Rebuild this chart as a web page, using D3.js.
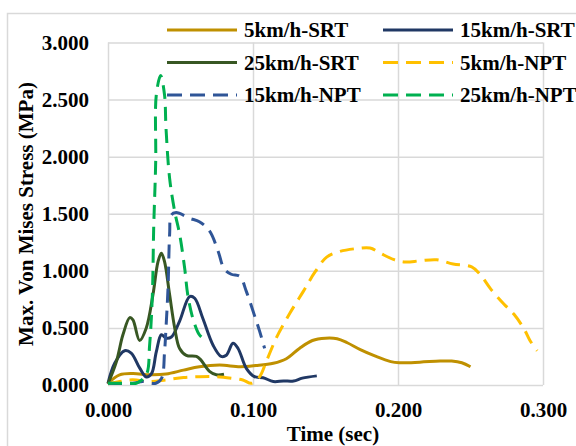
<!DOCTYPE html>
<html>
<head>
<meta charset="utf-8">
<script src="https://cdn.jsdelivr.net/npm/d3@7"></script>
<style>
  body { margin: 0; background: #fff; }
  text { font-family: "Liberation Serif", "Times New Roman", serif; font-weight: bold; fill: #000; }
</style>
</head>
<body>
<div id="chart"></div>
<script>
// Series data: [time (sec), max. von Mises stress (MPa)]
const srt5 = [[0,0.015],[0.008,0.088],[0.017,0.10],[0.029,0.09],[0.040,0.096],[0.052,0.13],[0.063,0.16],[0.077,0.175],[0.091,0.16],[0.102,0.17],[0.114,0.19],[0.123,0.23],[0.132,0.32],[0.141,0.39],[0.150,0.41],[0.158,0.405],[0.165,0.37],[0.174,0.31],[0.184,0.255],[0.195,0.205],[0.201,0.195],[0.215,0.20],[0.229,0.21],[0.237,0.21],[0.244,0.195],[0.250,0.16]];
const srt15 = [[0,0.015],[0.0046,0.19],[0.0115,0.30],[0.016,0.28],[0.0218,0.15],[0.0264,0.07],[0.030,0.10],[0.0333,0.29],[0.0368,0.44],[0.040,0.41],[0.0437,0.42],[0.0494,0.56],[0.0563,0.775],[0.0598,0.76],[0.0655,0.58],[0.0724,0.35],[0.078,0.25],[0.0816,0.26],[0.0862,0.365],[0.0897,0.32],[0.0954,0.146],[0.101,0.073],[0.107,0.064],[0.114,0.03],[0.121,0.035],[0.128,0.035],[0.134,0.06],[0.144,0.08]];
const srt25 = [[0,0.01],[0.0057,0.2],[0.0103,0.44],[0.015,0.59],[0.0172,0.57],[0.0218,0.39],[0.0264,0.50],[0.031,0.79],[0.0345,1.08],[0.0368,1.155],[0.039,1.08],[0.0425,0.79],[0.046,0.50],[0.0494,0.32],[0.054,0.26],[0.061,0.25],[0.064,0.22],[0.070,0.12],[0.0747,0.09],[0.080,0.094]];
const npt5 = [[0,0.01],[0.008,0.03],[0.017,0.045],[0.029,0.03],[0.040,0.045],[0.052,0.065],[0.063,0.073],[0.075,0.073],[0.086,0.058],[0.093,0.044],[0.099,0.015],[0.1046,0.073],[0.109,0.2],[0.116,0.41],[0.1255,0.63],[0.1347,0.82],[0.1428,0.99],[0.1508,1.12],[0.160,1.17],[0.1715,1.195],[0.1807,1.20],[0.1876,1.156],[0.1968,1.10],[0.2048,1.077],[0.2152,1.088],[0.2267,1.097],[0.238,1.06],[0.2508,1.035],[0.2566,0.97],[0.264,0.84],[0.273,0.71],[0.280,0.62],[0.287,0.49],[0.291,0.39],[0.296,0.30]];
const npt15 = [[0,0.015],[0.017,0.015],[0.024,0.03],[0.033,0.015],[0.037,0.06],[0.039,0.29],[0.040,0.5],[0.0414,0.85],[0.0425,1.32],[0.0437,1.49],[0.047,1.51],[0.0563,1.46],[0.063,1.43],[0.070,1.35],[0.076,1.17],[0.080,1.02],[0.085,0.97],[0.091,0.95],[0.0954,0.82],[0.101,0.61],[0.1046,0.47],[0.108,0.32]];
const npt25 = [[0,0.015],[0.0034,0.015],[0.015,0.015],[0.0195,0.015],[0.0264,0.09],[0.0287,0.35],[0.0306,0.79],[0.0315,1.37],[0.0329,1.96],[0.0333,2.54],[0.0363,2.71],[0.039,2.54],[0.040,2.25],[0.0425,1.81],[0.046,1.52],[0.0494,1.32],[0.0529,1.02],[0.055,0.79],[0.0586,0.58],[0.063,0.44],[0.0655,0.41]];

const seriesNames = ["5km/h-SRT", "15km/h-SRT", "25km/h-SRT", "5km/h-NPT", "15km/h-NPT", "25km/h-NPT"];
const seriesData = [srt5, srt15, srt25, npt5, npt15, npt25];
const seriesColors = ["#bf9000", "#203864", "#385723", "#ffc000", "#2f5597", "#00b050"];
const seriesDashed = [false, false, false, true, true, true];

const xTicks = [0, 0.1, 0.2, 0.3];
const yTicks = [0, 0.5, 1, 1.5, 2, 2.5, 3];

const width = 576, height = 446;
const plot = { left: 108, right: 543, top: 42.5, bottom: 385 };

const svg = d3.select("#chart").append("svg")
    .attr("width", width)
    .attr("height", height);

// chart area border
svg.append("rect")
    .attr("x", 7.5).attr("y", 13.5)
    .attr("width", 700).attr("height", 600)
    .attr("fill", "#fff")
    .attr("stroke", "#d9d9d9")
    .attr("stroke-width", 1.5);

const x = d3.scaleLinear().domain([0, 0.3]).range([plot.left, plot.right]);
const y = d3.scaleLinear().domain([0, 3]).range([plot.bottom, plot.top]);
const fmt = d3.format(".3f");

// gridlines
svg.append("g")
    .attr("transform", `translate(${plot.left},0)`)
    .call(d3.axisLeft(y).tickValues(yTicks).tickSize(-(plot.right - plot.left)).tickFormat(""))
    .call(g => g.select(".domain").remove())
    .call(g => g.selectAll("line").attr("stroke", "#d9d9d9").attr("stroke-width", 1.5));

svg.append("g")
    .attr("transform", `translate(0,${plot.bottom})`)
    .call(d3.axisBottom(x).tickValues(xTicks).tickSize(-(plot.bottom - plot.top)).tickFormat(""))
    .call(g => g.select(".domain").remove())
    .call(g => g.selectAll("line").attr("stroke", "#d9d9d9").attr("stroke-width", 1.5));

// tick labels
svg.append("g")
    .attr("transform", `translate(${plot.left},0)`)
    .call(d3.axisLeft(y).tickValues(yTicks).tickSize(0).tickPadding(19).tickFormat(fmt))
    .call(g => g.select(".domain").remove())
    .call(g => g.selectAll("text").attr("font-size", 21).attr("font-family", null));

svg.append("g")
    .attr("transform", `translate(0,${plot.bottom})`)
    .call(d3.axisBottom(x).tickValues(xTicks).tickSize(0).tickPadding(17).tickFormat(fmt))
    .call(g => g.select(".domain").remove())
    .call(g => g.selectAll("text").attr("font-size", 21).attr("font-family", null));

// axis titles
svg.append("text")
    .attr("x", 333).attr("y", 441)
    .attr("text-anchor", "middle")
    .attr("font-size", 21)
    .text("Time (sec)");

svg.append("text")
    .attr("transform", "translate(33,214) rotate(-90)")
    .attr("text-anchor", "middle")
    .attr("font-size", 21)
    .text("Max. Von Mises Stress (MPa)");

// lines
const line = d3.line()
    .x(d => x(d[0]))
    .y(d => y(d[1]))
    .curve(d3.curveCatmullRom.alpha(0.5));

seriesData.forEach((data, i) => {
    svg.append("path")
        .datum(data)
        .attr("d", line)
        .attr("fill", "none")
        .attr("stroke", seriesColors[i])
        .attr("stroke-width", 3)
        .attr("stroke-dasharray", seriesDashed[i] ? "14,8" : null)
        .attr("stroke-linejoin", "round");
});

// legend
const legendCols = [167, 383];
const legendRows = [30, 62.5, 95];
seriesNames.forEach((name, i) => {
    const lx = legendCols[i % 2], ly = legendRows[Math.floor(i / 2)];
    svg.append("line")
        .attr("x1", lx).attr("x2", lx + 70)
        .attr("y1", ly).attr("y2", ly)
        .attr("stroke", seriesColors[i])
        .attr("stroke-width", 3)
        .attr("stroke-dasharray", seriesDashed[i] ? "15,8" : null);
    svg.append("text")
        .attr("x", lx + 77).attr("y", ly + 7)
        .attr("font-size", 21)
        .text(name);
});
</script>
</body>
</html>
